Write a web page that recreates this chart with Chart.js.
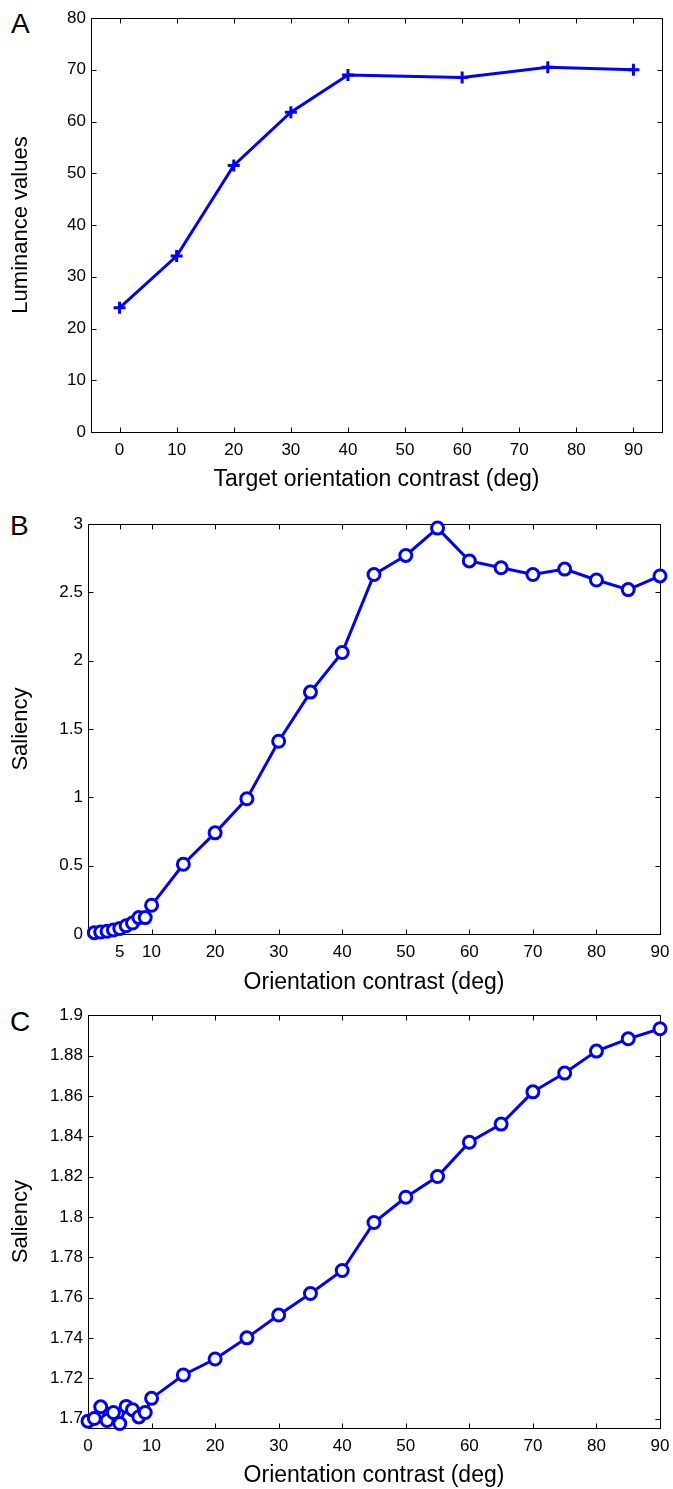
<!DOCTYPE html>
<html>
<head>
<meta charset="utf-8">
<script src="https://cdn.jsdelivr.net/npm/chart.js"></script>
<style>
  body { margin: 0; background: #fff; width: 673px; height: 1489px; position: relative; overflow: hidden; }
  canvas { position: absolute; left: 0; }
  .tag { position: absolute; font-family: "Liberation Sans", Arial, sans-serif; font-size: 28px; color: #000; line-height: 1; }
</style>
</head>
<body>
<div class="tag" style="left:11px;top:10px">A</div>
<div class="tag" style="left:10px;top:512px">B</div>
<div class="tag" style="left:10px;top:1008px">C</div>
<canvas id="chartA" width="673" height="500" style="top:0"></canvas>
<canvas id="chartB" width="673" height="500" style="top:500px"></canvas>
<canvas id="chartC" width="673" height="489" style="top:1000px"></canvas>
<script>
// panel A: luminance vs target orientation contrast
var xA = [0, 10, 20, 30, 40, 60, 75, 90];
var yA = [24, 34, 51.5, 61.8, 69, 68.5, 70.5, 70];
var xTicksA = [0, 10, 20, 30, 40, 50, 60, 70, 80, 90];
var yTicksA = [0, 10, 20, 30, 40, 50, 60, 70, 80];

// panel B: saliency
var xB = [1, 2, 3, 4, 5, 6, 7, 8, 9, 10, 15, 20, 25, 30, 35, 40, 45, 50, 55, 60, 65, 70, 75, 80, 85, 90];
var yB = [0.01, 0.015, 0.02, 0.03, 0.04, 0.06, 0.08, 0.12, 0.12, 0.21, 0.51, 0.74, 0.99, 1.41, 1.77, 2.06,
          2.63, 2.77, 2.97, 2.73, 2.68, 2.63, 2.67, 2.59, 2.52, 2.62];
var xTicksB = [5, 10, 20, 30, 40, 50, 60, 70, 80, 90];
var yTicksB = [0, 0.5, 1, 1.5, 2, 2.5, 3];

// panel C: saliency (other model)
var xC = [0, 1, 2, 3, 4, 5, 6, 7, 8, 9, 10, 15, 20, 25, 30, 35, 40, 45, 50, 55, 60, 65, 70, 75, 80, 85, 90];
var yC = [1.6987, 1.700, 1.7058, 1.699, 1.703, 1.6975, 1.706, 1.7044, 1.7008, 1.703, 1.710, 1.7216, 1.7295, 1.740,
          1.7513, 1.762, 1.7734, 1.7972, 1.8097, 1.820, 1.837, 1.846, 1.862, 1.8713, 1.8822, 1.8883, 1.8933];
var xTicksC = [0, 10, 20, 30, 40, 50, 60, 70, 80, 90];
var yTicksC = [1.7, 1.72, 1.74, 1.76, 1.78, 1.8, 1.82, 1.84, 1.86, 1.88, 1.9];

var FONT = '"Liberation Sans", Arial, sans-serif';
var BLUE = '#0000ff';

// matlab style box with inward ticks on all four sides
var matlabBox = {
    id: 'matlabBox',
    beforeDatasetsDraw(chart) {
        var ctx = chart.ctx, a = chart.chartArea;
        var sx = chart.scales.x, sy = chart.scales.y;
        var L = Math.round(a.left) + 0.5, R = Math.round(a.right) + 0.5;
        var T = Math.round(a.top) + 0.5, B = Math.round(a.bottom) + 0.5;
        ctx.save();
        ctx.strokeStyle = '#000';
        ctx.lineWidth = 1;
        ctx.beginPath();
        sx.ticks.forEach(function (t) {
            var px = Math.round(sx.getPixelForValue(t.value)) + 0.5;
            ctx.moveTo(px, B); ctx.lineTo(px, B - 5);
            ctx.moveTo(px, T); ctx.lineTo(px, T + 5);
        });
        sy.ticks.forEach(function (t) {
            var py = Math.round(sy.getPixelForValue(t.value)) + 0.5;
            ctx.moveTo(L, py); ctx.lineTo(L + 5, py);
            ctx.moveTo(R, py); ctx.lineTo(R - 5, py);
        });
        ctx.stroke();
        ctx.strokeRect(L, T, R - L, B - T);
        ctx.restore();
    }
};

function makeChart(id, cfg) {
    var data = cfg.xs.map(function (v, i) { return { x: v, y: cfg.ys[i] }; });
    return new Chart(document.getElementById(id), {
        type: 'line',
        data: {
            datasets: [{
                data: data,
                borderColor: BLUE,
                borderWidth: 3,
                backgroundColor: '#fff',
                pointStyle: cfg.marker,
                pointRadius: cfg.radius,
                pointBorderWidth: 3,
                pointBorderColor: BLUE,
                pointBackgroundColor: '#fff',
                tension: 0,
                clip: false
            }]
        },
        options: {
            responsive: false,
            animation: false,
            events: [],
            layout: { padding: { top: cfg.top, right: cfg.right, bottom: 0, left: 0 } },
            plugins: { legend: { display: false }, tooltip: { enabled: false } },
            scales: {
                x: {
                    type: 'linear',
                    min: cfg.xmin, max: cfg.xmax,
                    afterBuildTicks: function (s) { s.ticks = cfg.xticks.map(function (v) { return { value: v }; }); },
                    afterFit: function (s) { s.height = cfg.xh; s.paddingLeft = 0; s.paddingRight = 0; },
                    grid: { display: false, drawTicks: false },
                    border: { display: false },
                    ticks: { color: '#000', padding: 8, maxRotation: 0, autoSkip: false, font: { family: FONT, size: 17 } },
                    title: { display: true, text: cfg.xtitle, color: '#000', font: { family: FONT, size: 23 }, padding: { top: 0, bottom: cfg.xtpad } }
                },
                y: {
                    type: 'linear',
                    min: cfg.ymin, max: cfg.ymax,
                    afterBuildTicks: function (s) { s.ticks = cfg.yticks.map(function (v) { return { value: v }; }); },
                    afterFit: function (s) { s.width = cfg.yw; },
                    grid: { display: false, drawTicks: false },
                    border: { display: false },
                    ticks: {
                        color: '#000', padding: 5, autoSkip: false,
                        font: { family: FONT, size: 17 },
                        callback: function (v) { return String(+v.toFixed(2)); }
                    },
                    title: { display: true, text: cfg.ytitle, color: '#000', font: { family: FONT, size: 22 }, padding: { top: 8, bottom: 0 } }
                }
            }
        },
        plugins: [matlabBox]
    });
}

makeChart('chartA', {
    xs: xA, ys: yA, marker: 'cross', radius: 6,
    xmin: -5, xmax: 95, ymin: 0, ymax: 80,
    xticks: xTicksA, yticks: yTicksA,
    top: 18, right: 11, xh: 68, yw: 91, xtpad: 7,
    xtitle: 'Target orientation contrast (deg)', ytitle: 'Luminance values'
});

makeChart('chartB', {
    xs: xB, ys: yB, marker: 'circle', radius: 6,
    xmin: 0, xmax: 90, ymin: 0, ymax: 3,
    xticks: xTicksB, yticks: yTicksB,
    top: 24, right: 13, xh: 66, yw: 88, xtpad: 4,
    xtitle: 'Orientation contrast (deg)', ytitle: 'Saliency'
});

makeChart('chartC', {
    xs: xC, ys: yC, marker: 'circle', radius: 6,
    xmin: 0, xmax: 90, ymin: 1.6953, ymax: 1.9,
    xticks: xTicksC, yticks: yTicksC,
    top: 15, right: 13, xh: 61, yw: 88, xtpad: 0,
    xtitle: 'Orientation contrast (deg)', ytitle: 'Saliency'
});
</script>
</body>
</html>
